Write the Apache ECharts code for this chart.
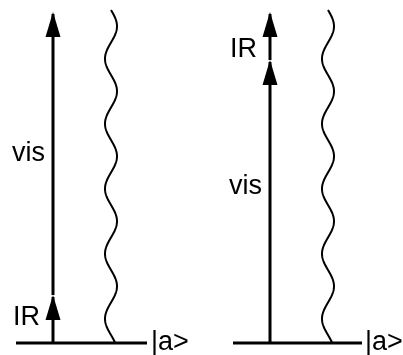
<!DOCTYPE html>
<html>
<head>
<meta charset="utf-8">
<script src="https://cdn.jsdelivr.net/npm/echarts@6/dist/echarts.min.js"></script>
<style>
  html, body { margin: 0; padding: 0; background: #fff; }
  #chart { width: 403px; height: 355px; }
</style>
</head>
<body>
<div id="chart"></div>
<script>
// Photon energies (energy axis units) and the two absorption orders
const photonNames = ['IR', 'vis'];
const photonEnergy = [48, 283];
const schemeOrder = [['IR', 'vis'], ['vis', 'IR']];
const groundEnergy = 0;
const groundLabel = '|a>';

// ---- drawing layout ----
const FONT = '"Liberation Sans", Arial, Helvetica, sans-serif';
const FONT_SIZE = 27;
const DESCENT = 6; // distance from baseline to the bottom of the text box
const schemeLayout = [
  { arrowX: 53,  waveX: 111, lineFrom: 16,  lineTo: 147, stateX: 151, labelGap: [13, 8], labelDy: [-6, -8] },
  { arrowX: 270, waveX: 328, lineFrom: 233, lineTo: 362, stateX: 365, labelGap: [8, 13], labelDy: [7, -21] }
];
const HEAD_LEN = 25, HEAD_HALF = 7.5;
const WAVE_AMP = 6, WAVE_PERIOD = 65, WAVE_OVERSHOOT = 2;

const energyOf = name => photonEnergy[photonNames.indexOf(name)];

// transitions: [scheme, fromEnergy, toEnergy]
const transitions = [];
const transitionNames = [];
const transitionStep = [];
schemeOrder.forEach((order, s) => {
  let e = groundEnergy;
  order.forEach((name, k) => {
    transitions.push([s, e, e + energyOf(name)]);
    transitionNames.push(name);
    transitionStep.push(k);
    e += energyOf(name);
  });
});
// emitted signal from the top level down to the ground state
const signals = schemeOrder.map((order, s) =>
  [s, order.reduce((a, n) => a + energyOf(n), groundEnergy), groundEnergy]);
const groundStates = schemeOrder.map((o, s) => [s, groundEnergy]);

function renderGround(params, api) {
  const L = schemeLayout[api.value(0)];
  const p0 = api.coord([L.lineFrom, api.value(1)]);
  const p1 = api.coord([L.lineTo, api.value(1)]);
  return {
    type: 'group',
    children: [
      { type: 'line', shape: { x1: p0[0], y1: p0[1], x2: p1[0], y2: p1[1] },
        style: { stroke: '#000', lineWidth: 3 } },
      { type: 'text', x: api.coord([L.stateX, 0])[0], y: p0[1] + 7 + DESCENT,
        style: { text: groundLabel, font: FONT_SIZE + 'px ' + FONT, fill: '#000',
                 align: 'left', verticalAlign: 'bottom' } }
    ]
  };
}

function renderTransition(params, api) {
  const s = api.value(0);
  const L = schemeLayout[s];
  const step = transitionStep[params.dataIndex];
  const from = api.coord([L.arrowX, api.value(1)]);
  const to = api.coord([L.arrowX, api.value(2)]);
  const x = from[0];
  const mid = (api.value(1) + api.value(2)) / 2 + L.labelDy[step];
  const ly = api.coord([0, mid])[1];
  return {
    type: 'group',
    children: [
      { type: 'line', shape: { x1: x, y1: from[1], x2: x, y2: to[1] + 2 },
        style: { stroke: '#000', lineWidth: 3 } },
      { type: 'polygon',
        shape: { points: [[x, to[1]], [x - HEAD_HALF, to[1] + HEAD_LEN], [x + HEAD_HALF, to[1] + HEAD_LEN]] },
        style: { fill: '#000' } },
      { type: 'text', x: x - L.labelGap[step], y: ly + DESCENT,
        style: { text: transitionNames[params.dataIndex], font: FONT_SIZE + 'px ' + FONT,
                 fill: '#000', align: 'right', verticalAlign: 'bottom' } }
    ]
  };
}

function renderSignal(params, api) {
  const L = schemeLayout[api.value(0)];
  const top = api.coord([L.waveX, api.value(1) + WAVE_OVERSHOOT]);
  const bottom = api.coord([L.waveX, api.value(2)]);
  const pts = [];
  for (let y = top[1]; y <= bottom[1]; y += 1) {
    const d = y - top[1];
    pts.push([top[0] + WAVE_AMP * Math.sin(2 * Math.PI * d / WAVE_PERIOD), y]);
  }
  return {
    type: 'polyline',
    shape: { points: pts, smooth: 0 },
    style: { stroke: '#000', lineWidth: 2, fill: null }
  };
}

const chart = echarts.init(document.getElementById('chart'), null, { renderer: 'canvas' });
chart.setOption({
  animation: false,
  backgroundColor: '#fff',
  grid: { left: 0, right: 0, top: 0, bottom: 0 },
  xAxis: { type: 'value', min: 0, max: 403, show: false },
  yAxis: { type: 'value', min: -12, max: 343, show: false },
  series: [
    { type: 'custom', name: 'signal', renderItem: renderSignal, data: signals, clip: false },
    { type: 'custom', name: 'ground', renderItem: renderGround, data: groundStates, clip: false },
    { type: 'custom', name: 'transitions', renderItem: renderTransition, data: transitions, clip: false }
  ]
});
</script>
</body>
</html>
